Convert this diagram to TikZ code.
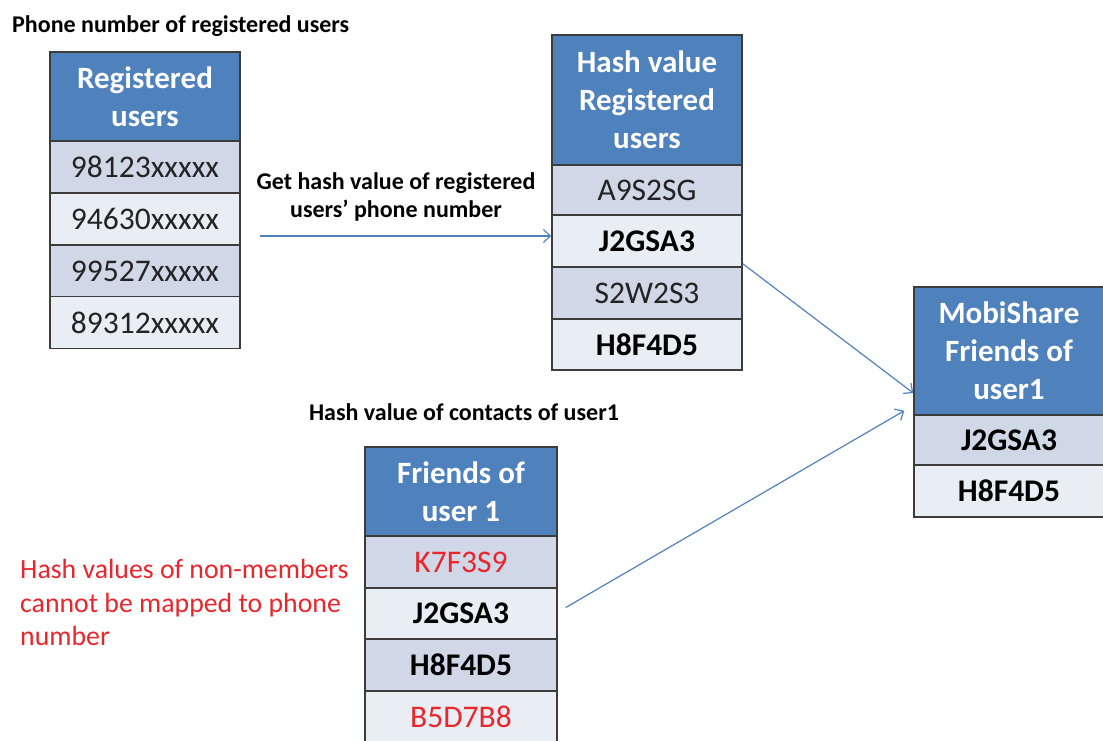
\documentclass[tikz,border=0pt]{standalone}
\usepackage{fontspec}
\setmainfont{Carlito}
\usetikzlibrary{arrows.meta}
\definecolor{headblue}{RGB}{79,129,189}
\definecolor{rowdark}{RGB}{208,216,232}
\definecolor{rowlight}{RGB}{233,237,244}
\definecolor{gridline}{RGB}{60,60,60}
\definecolor{linkblue}{RGB}{79,129,189}
\definecolor{alertred}{RGB}{232,38,44}
\definecolor{inktext}{RGB}{35,35,35}
\begin{document}
\begin{tikzpicture}[x=1pt,y=-1pt,
  cellbase/.style={draw=gridline, line width=1.5pt, inner sep=0pt,
    minimum width=190pt, align=center},
  headcell/.style={cellbase, fill=headblue, text=white,
    font=\fontsize{31}{38}\selectfont\bfseries},
  darkrow/.style={cellbase, fill=rowdark, minimum height=52pt, text=inktext,
    font=\fontsize{31.5}{36}\selectfont},
  lightrow/.style={cellbase, fill=rowlight, minimum height=52pt, text=inktext,
    font=\fontsize{31.5}{36}\selectfont},
  keyentry/.style={text=black, font=\fontsize{31.5}{36}\selectfont\bfseries},
  redentry/.style={text=alertred},
  caption/.style={inner sep=0pt, align=center, text=black,
    font=\fontsize{24}{28}\selectfont\bfseries},
  link/.style={draw=linkblue, line width=1.2pt,
    -{Straight Barb[length=7pt,width=13pt]}}
]
\useasboundingbox (0,0) rectangle (1103,740);

% registered users and their phone numbers
\node[caption, anchor=west] (capPhone) at (12,26) {Phone number of registered users};
\node[headcell, minimum height=89pt] (t1h) at (145,96.5) {Registered\\users};
\node[darkrow]  (t1r1) at (145,167)   {98123xxxxx};
\node[lightrow] (t1r2) at (145,219)   {94630xxxxx};
\node[darkrow]  (t1r3) at (145,271)   {99527xxxxx};
\node[lightrow] (t1r4) at (145,322.5) {89312xxxxx};

% hashed phone numbers of registered users
\node[headcell, minimum height=130pt] (t2h) at (647,100) {Hash value\\Registered\\users};
\node[darkrow,  minimum height=50pt] (t2r1) at (647,190)   {A9S2SG};
\node[lightrow, keyentry] (t2r2) at (647,241)   {J2GSA3};
\node[darkrow]  (t2r3) at (647,293)   {S2W2S3};
\node[lightrow, keyentry, minimum height=51pt] (t2r4) at (647,344.5) {H8F4D5};

% matched friends
\node[headcell, minimum height=128pt] (t3h) at (1009,351) {MobiShare\\Friends of\\user1};
\node[darkrow,  keyentry, minimum height=50pt] (t3r1) at (1009,440) {J2GSA3};
\node[lightrow, keyentry] (t3r2) at (1009,491) {H8F4D5};

% hashed contacts of user 1
\node[caption] (capContacts) at (464,412) {Hash value of contacts of user1};
\node[headcell, minimum width=192pt, minimum height=89pt] (t4h) at (461,491.5) {Friends of\\user 1};
\node[darkrow,  minimum width=192pt, redentry] (t4r1) at (461,562)   {K7F3S9};
\node[lightrow, minimum width=192pt, keyentry, minimum height=51pt] (t4r2) at (461,613.5) {J2GSA3};
\node[darkrow,  minimum width=192pt, keyentry] (t4r3) at (461,665)   {H8F4D5};
\node[lightrow, minimum width=192pt, redentry] (t4r4) at (461,717)   {B5D7B8};

\node[inner sep=0pt, align=left, anchor=north west, text=alertred,
  font=\fontsize{27.8}{33.5}\selectfont] (note) at (20,559)
  {Hash values of non-members\\cannot be mapped to phone\\number};

% connectors
\node[caption] (capHash) at (396,197) {Get hash value of registered\\users’ phone number};
\coordinate (hashStart) at (260,236);
\draw[link] (hashStart) -- (hashStart -| t2r2.west);
\draw[link] ([yshift=4pt]t2r2.south east) -- ([yshift=-42pt]t3h.west);
\draw[link] ([xshift=8pt,yshift=6pt]t4r2.east) -- ([xshift=-9pt,yshift=5pt]t3h.south west);
\end{tikzpicture}
\end{document}
